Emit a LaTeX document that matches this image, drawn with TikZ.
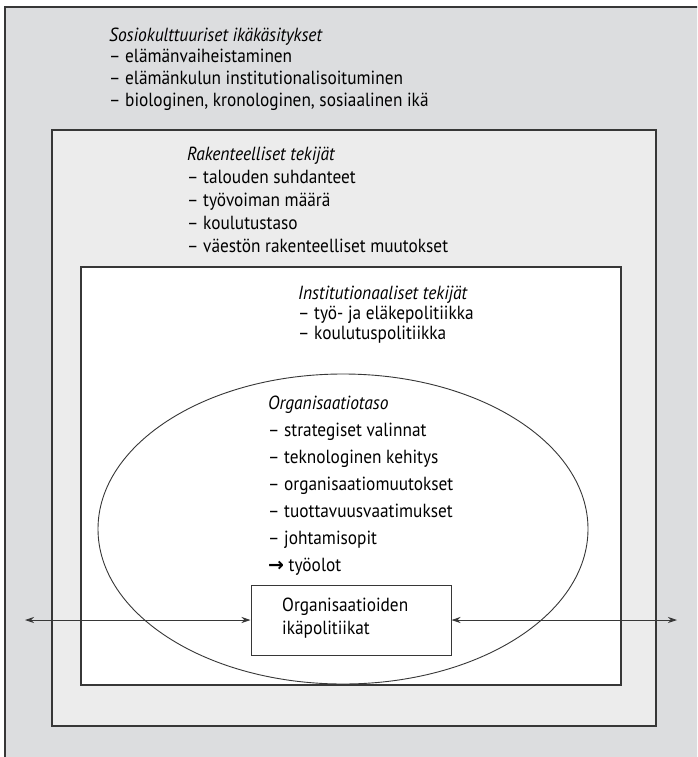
\documentclass[tikz,border=0pt]{standalone}
\usepackage{fontspec}
\setmainfont[FakeStretch=0.91, ItalicFeatures={FakeStretch=0.92}]{PT Sans}
\newfontfamily\arrowfont{DejaVu Sans}
\usetikzlibrary{arrows.meta,shapes.geometric}

\definecolor{outergray}{RGB}{220,221,223}
\definecolor{midgray}{RGB}{236,236,236}
\definecolor{framecol}{RGB}{55,55,55}

\begin{document}
\begin{tikzpicture}[
  x=1pt, y=-1pt,
  >={Stealth[length=9pt,width=6pt]},
  every node/.style={align=left},
  frame/.style={draw=framecol, line width=1.1pt},
  lbl/.style={anchor=north west, inner sep=0pt},
  ikabox/.style={draw=framecol, line width=1pt, fill=white, minimum width=200pt,
    minimum height=70pt},
  arr/.style={<->, line width=0.9pt, draw=framecol}
]
\useasboundingbox (0,0) rectangle (697,757);
\clip (0,0) rectangle (697,757);

% nested frames
\draw[frame, fill=outergray] (5,7) rectangle (730,790);
\draw[frame, fill=midgray] (52,130) rectangle (656,726);
\draw[frame, fill=white] (81,267) rectangle (621,685);
\node[ellipse, draw=framecol, line width=0.9pt, minimum width=490pt,
  minimum height=310pt, inner sep=0pt] (org) at (343,529) {};

% texts
\node[lbl, font=\fontsize{19}{21.7}\selectfont] (sosio) at (109,27.5)
  {\textit{Sosiokulttuuriset ikäkäsitykset}\\
   – elämänvaiheistaminen\\
   – elämänkulun institutionalisoituminen\\
   – biologinen, kronologinen, sosiaalinen ikä};
\node[lbl, font=\fontsize{19}{23}\selectfont] (rak) at (187,146.5)
  {\textit{Rakenteelliset tekijät}\\
   – talouden suhdanteet\\
   – työvoiman määrä\\
   – koulutustaso\\
   – väestön rakenteelliset muutokset};
\node[lbl, font=\fontsize{19}{20}\selectfont] (inst) at (298,285.5)
  {\textit{Institutionaaliset tekijät}\\
   – työ- ja eläkepolitiikka\\
   – koulutuspolitiikka};
\node[lbl, font=\fontsize{19}{27}\selectfont] (orgtxt) at (268,395.5)
  {\textit{Organisaatiotaso}\\
   – strategiset valinnat\\
   – teknologinen kehitys\\
   – organisaatiomuutokset\\
   – tuottavuusvaatimukset\\
   – johtamisopit\\
   {\arrowfont\bfseries →} työolot};

% age policy box
\node[ikabox] (ikapol) at (351,620) {};
\node[lbl, font=\fontsize{19}{23}\selectfont] (ikatxt) at (282,597.5)
  {Organisaatioiden\\ ikäpolitiikat};

\coordinate (lend) at (25,620);
\coordinate (rend) at (677,620);
\draw[arr] (lend) -- (lend -| ikapol.west);
\draw[arr] (rend -| ikapol.east) -- (rend);
\end{tikzpicture}
\end{document}
